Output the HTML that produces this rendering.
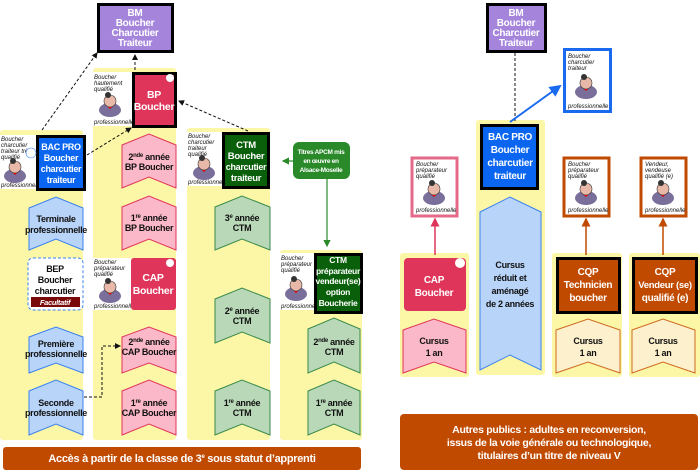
<!DOCTYPE html>
<html><head><meta charset="utf-8"><style>
html,body{margin:0;padding:0;background:#fff;width:700px;height:470px;overflow:hidden}
svg{display:block}
text{font-family:"Liberation Sans",sans-serif;text-anchor:middle}
.w{fill:#fff;font-weight:bold;letter-spacing:-0.3px}
.k{fill:#111;font-weight:bold;font-size:9px;letter-spacing:-0.3px}
.it{font-style:italic;font-size:6px;fill:#111;text-anchor:start}
</style></head><body>
<svg width="700" height="470" viewBox="0 0 700 470" xmlns="http://www.w3.org/2000/svg">
<defs>
<marker id="ah" markerWidth="6" markerHeight="6" refX="5" refY="3" orient="auto"><path d="M0,0 L6,3 L0,6z" fill="#111"/></marker>
<marker id="ag" markerWidth="6" markerHeight="6" refX="5" refY="3" orient="auto"><path d="M0,0 L6,3 L0,6z" fill="#2a8a2a"/></marker>
<marker id="ab" markerWidth="6" markerHeight="6" refX="5" refY="3" orient="auto"><path d="M0,0 L6,3 L0,6z" fill="#1a6af0"/></marker>
<marker id="ap" markerWidth="6" markerHeight="6" refX="5" refY="3" orient="auto"><path d="M0,0 L6,3 L0,6z" fill="#e0355a"/></marker>
<marker id="ao" markerWidth="6" markerHeight="6" refX="5" refY="3" orient="auto"><path d="M0,0 L6,3 L0,6z" fill="#c04a00"/></marker>
<g id="man"><ellipse cx="0" cy="6" rx="11" ry="7" fill="#7a6e9a"/><circle cx="0" cy="-3" r="6" fill="#e8b8a8" stroke="#333" stroke-width="0.6"/><circle cx="-2" cy="-9" r="3" fill="#333"/><path d="M-2,3 L2,3 L0,5z" fill="#d00"/></g>
</defs>
<g fill="#fbf7a6">
<rect x="0" y="130" width="83" height="310" rx="3"/>
<rect x="93" y="68" width="83" height="372" rx="3"/>
<rect x="187" y="128" width="83" height="312" rx="3"/>
<rect x="280" y="250" width="82" height="190" rx="3"/>
<rect x="400" y="253" width="69" height="124" rx="3"/>
<rect x="476" y="120" width="69" height="255" rx="3"/>
<rect x="552" y="253" width="70" height="124" rx="3"/>
<rect x="629" y="253" width="71" height="124" rx="3"/>
</g>
<g stroke="#111" stroke-width="1" stroke-dasharray="3,2" fill="none">
<line x1="42" y1="130" x2="97" y2="53" marker-end="url(#ah)"/>
<line x1="135" y1="70" x2="135" y2="55" marker-end="url(#ah)"/>
<line x1="87" y1="155" x2="131" y2="128" marker-end="url(#ah)"/>
<line x1="248" y1="131" x2="179" y2="101" marker-end="url(#ah)"/>
<polyline points="84,397 102,397 102,346 120,346" marker-end="url(#ah)"/>
<line x1="515" y1="53" x2="515" y2="122"/>
</g>
<line x1="296" y1="161" x2="283" y2="161" stroke="#2a8a2a" stroke-width="1.2" marker-end="url(#ag)"/>
<line x1="327" y1="179" x2="327" y2="246" stroke="#2a8a2a" stroke-width="1.2" marker-end="url(#ag)"/>
<line x1="510" y1="122" x2="560" y2="86" stroke="#1a6af0" stroke-width="2" marker-end="url(#ab)"/>
<line x1="435" y1="255" x2="435" y2="219" stroke="#e0355a" stroke-width="1.5" marker-end="url(#ap)"/>
<line x1="586" y1="255" x2="586" y2="219" stroke="#c04a00" stroke-width="1.5" marker-end="url(#ao)"/>
<line x1="663" y1="255" x2="663" y2="219" stroke="#c04a00" stroke-width="1.5" marker-end="url(#ao)"/>
<rect x="98.5" y="4.5" width="74" height="47" fill="#a585dc" stroke="#000" stroke-width="3"/>
<text class="w" font-size="10" x="135" y="16">BM</text><text class="w" font-size="10" x="135" y="26">Boucher</text><text class="w" font-size="10" x="135" y="36">Charcutier</text><text class="w" font-size="10" x="135" y="46">Traiteur</text>
<rect x="487.5" y="4.5" width="58" height="47" fill="#a585dc" stroke="#000" stroke-width="3"/>
<text class="w" font-size="10" x="516" y="16">BM</text><text class="w" font-size="10" x="516" y="26">Boucher</text><text class="w" font-size="10" x="516" y="36">Charcutier</text><text class="w" font-size="10" x="516" y="46">Traiteur</text>
<g>
<rect x="93" y="72" width="39" height="54" fill="#fff"/><text class="it" x="94" y="79">Boucher</text><text class="it" x="94" y="85">hautement</text><text class="it" x="94" y="91">qualifié</text><use href="#man" x="110" y="104"/><text class="it" x="94" y="124">professionnelle</text>
<rect x="0" y="135" width="36" height="54" fill="#fff"/><text class="it" x="1" y="141">Boucher</text><text class="it" x="1" y="147">charcutier</text><text class="it" x="1" y="153">traiteur très</text><text class="it" x="1" y="159">qualifié</text><use href="#man" x="15" y="170"/><text class="it" x="1" y="187">professionnelle</text>
<rect x="187" y="132" width="35" height="54" fill="#fff"/><text class="it" x="188" y="138">Boucher</text><text class="it" x="188" y="144">charcutier</text><text class="it" x="188" y="150">traiteur</text><text class="it" x="188" y="156">qualifié</text><use href="#man" x="204" y="167"/><text class="it" x="188" y="184">professionnelle</text>
<rect x="93" y="258" width="38" height="52" fill="#fff"/><text class="it" x="94" y="264">Boucher</text><text class="it" x="94" y="270">préparateur</text><text class="it" x="94" y="276">qualifié</text><use href="#man" x="110" y="290"/><text class="it" x="94" y="308">professionnelle</text>
<rect x="280" y="253" width="34" height="57" fill="#fff"/><text class="it" x="281" y="260">Boucher</text><text class="it" x="281" y="266">préparateur</text><text class="it" x="281" y="272">qualifié</text><use href="#man" x="296" y="288"/><text class="it" x="281" y="308">professionnelle</text>
</g>
<g>
<rect x="564.5" y="49.5" width="46" height="62" fill="#fff" stroke="#1a6af0" stroke-width="3"/><text class="it" x="568" y="58">Boucher</text><text class="it" x="568" y="64">charcutier</text><text class="it" x="568" y="70">traiteur</text><use href="#man" x="586" y="86"/><text class="it" x="568" y="108">professionnelle</text>
<rect x="412" y="158" width="45" height="58" fill="#fff" stroke="#e56a8a" stroke-width="3"/><text class="it" x="416" y="166">Boucher</text><text class="it" x="416" y="172">préparateur</text><text class="it" x="416" y="178">qualifié</text><use href="#man" x="434" y="192"/><text class="it" x="416" y="212">professionnelle</text>
<rect x="564" y="158" width="45" height="58" fill="#fff" stroke="#c04a00" stroke-width="3"/><text class="it" x="568" y="166">Boucher</text><text class="it" x="568" y="172">préparateur</text><text class="it" x="568" y="178">qualifié</text><use href="#man" x="586" y="192"/><text class="it" x="568" y="212">professionnelle</text>
<rect x="641" y="158" width="45" height="58" fill="#fff" stroke="#c04a00" stroke-width="3"/><text class="it" x="645" y="166">Vendeur,</text><text class="it" x="645" y="172">vendeuse</text><text class="it" x="645" y="178">qualifié (e)</text><use href="#man" x="663" y="192"/><text class="it" x="645" y="212">professionnelle</text>
</g>
<rect x="133.5" y="73.5" width="42" height="53" fill="#e0355a" stroke="#000" stroke-width="3"/>
<text class="w" font-size="10.5" x="154" y="98">BP</text><text class="w" font-size="10.5" x="154" y="110">Boucher</text>
<rect x="37.5" y="136.5" width="47" height="53" fill="#0a66f0" stroke="#000" stroke-width="3"/>
<text class="w" font-size="9" x="61" y="150">BAC PRO</text><text class="w" font-size="9" x="61" y="161">Boucher</text><text class="w" font-size="9" x="61" y="172">charcutier</text><text class="w" font-size="9" x="61" y="183">traiteur</text>
<rect x="223.5" y="133.5" width="45" height="54" fill="#0a600a" stroke="#000" stroke-width="3"/>
<text class="w" font-size="9.5" x="246" y="148">CTM</text><text class="w" font-size="9.5" x="246" y="159">Boucher</text><text class="w" font-size="9" x="246" y="170">charcutier</text><text class="w" font-size="9.5" x="246" y="181">traiteur</text>
<rect x="293" y="142" width="57" height="37" rx="6" fill="#2a8a2a"/>
<text class="w" font-size="6.5" x="321" y="154">Titres APCM mis</text><text class="w" font-size="6.5" x="321" y="163">en œuvre en</text><text class="w" font-size="6.5" x="321" y="172">Alsace-Moselle</text>
<rect x="315.5" y="254.5" width="46" height="58" fill="#0a600a" stroke="#000" stroke-width="3"/>
<text class="w" font-size="8.5" x="338" y="263">CTM</text><text class="w" font-size="8.5" x="338" y="274">préparateur</text><text class="w" font-size="8.5" x="338" y="284">vendeur(se)</text><text class="w" font-size="8.5" x="338" y="295">option</text><text class="w" font-size="8.5" x="338" y="306">Boucherie</text>
<rect x="131" y="258" width="45" height="52" rx="3" fill="#e0355a"/>
<text class="w" font-size="10.5" x="153" y="281">CAP</text><text class="w" font-size="10.5" x="153" y="294">Boucher</text>
<rect x="28" y="258" width="55" height="52" rx="5" fill="#fff" stroke="#3a80f0" stroke-dasharray="3,2"/>
<text class="k" font-size="9.5" x="55" y="272">BEP</text><text class="k" font-size="9.5" x="55" y="283">Boucher</text><text class="k" font-size="9.5" x="55" y="294">charcutier</text>
<rect x="31" y="297" width="49" height="10" fill="#7a0a0a"/><text class="w" font-size="7.5" font-style="italic" x="55" y="305">Facultatif</text>
<g><circle cx="31" cy="153" r="5" fill="#fff" stroke="#3a80f0" stroke-width="0.6"/><circle cx="170" cy="78" r="4" fill="#fff"/><circle cx="170" cy="263" r="4" fill="#fff"/></g>
<rect x="481.5" y="125.5" width="56" height="63" fill="#0a66f0" stroke="#000" stroke-width="3"/>
<text class="w" font-size="10" x="510" y="140">BAC PRO</text><text class="w" font-size="10" x="510" y="153">Boucher</text><text class="w" font-size="10" x="510" y="166">charcutier</text><text class="w" font-size="10" x="510" y="179">traiteur</text>
<rect x="404" y="258" width="62" height="53" rx="4" fill="#e0355a"/>
<text class="w" font-size="10" x="434" y="283">CAP</text><text class="w" font-size="10" x="434" y="296">Boucher</text>
<circle cx="460" cy="263" r="5" fill="#fff"/>
<rect x="557.5" y="258.5" width="62" height="54" fill="#c04a00" stroke="#000" stroke-width="3"/>
<text class="w" font-size="10" x="588" y="275">CQP</text><text class="w" font-size="10" x="588" y="288">Technicien</text><text class="w" font-size="10" x="588" y="301">boucher</text>
<rect x="633.5" y="258.5" width="63" height="54" fill="#c04a00" stroke="#000" stroke-width="3"/>
<text class="w" font-size="10" x="665" y="275">CQP</text><text class="w" font-size="9.5" x="665" y="288">Vendeur (se)</text><text class="w" font-size="10" x="665" y="301">qualifié (e)</text>
<g fill="#b8d4f8" stroke="#3a80f0" stroke-width="1">
<polygon points="29,208 56,197 83,208 83,250 56,239 29,250"/>
<polygon points="29,337 56,327 83,337 83,373 56,363 29,373"/>
<polygon points="29,391 56,380 83,391 83,435 56,424 29,435"/>
<polygon points="480,212 510,197 541,212 541,370 510,355 480,370"/>
</g>
<g fill="#fbb8c8" stroke="#e0355a" stroke-width="1">
<polygon points="122,145 149,134 176,145 176,188 149,177 122,188"/>
<polygon points="122,207 149,196 176,207 176,250 149,239 122,250"/>
<polygon points="122,337 149,327 176,337 176,373 149,363 122,373"/>
<polygon points="122,391 149,380 176,391 176,435 149,424 122,435"/>
<polygon points="403,330 434,319 466,330 466,373 434,362 403,373"/>
</g>
<g fill="#b8d8b8" stroke="#3a8a4a" stroke-width="1">
<polygon points="215,207 242,196 270,207 270,250 242,239 215,250"/>
<polygon points="215,299 242,288 270,299 270,343 242,332 215,343"/>
<polygon points="215,391 242,380 270,391 270,435 242,424 215,435"/>
<polygon points="308,329 334,318 360,329 360,373 334,362 308,373"/>
<polygon points="308,391 334,380 360,391 360,435 334,424 308,435"/>
</g>
<g fill="#fdf0cc" stroke="#d06a20" stroke-width="1">
<polygon points="556,330 588,319 620,330 620,373 588,362 556,373"/>
<polygon points="632,330 663,319 695,330 695,373 663,362 632,373"/>
</g>
<g>
<text class="k" x="56" y="222">Terminale</text><text class="k" x="56" y="233">professionnelle</text>
<text class="k" x="56" y="347">Première</text><text class="k" x="56" y="357">professionnelle</text>
<text class="k" x="56" y="406">Seconde</text><text class="k" x="56" y="416">professionnelle</text>
<text class="k" x="149" y="160">2<tspan font-size="6" dy="-3">nde</tspan><tspan dy="3"> année</tspan></text><text class="k" x="149" y="170">BP Boucher</text>
<text class="k" x="149" y="221">1<tspan font-size="6" dy="-3">re</tspan><tspan dy="3"> année</tspan></text><text class="k" x="149" y="231">BP Boucher</text>
<text class="k" x="149" y="345">2<tspan font-size="6" dy="-3">nde</tspan><tspan dy="3"> année</tspan></text><text class="k" x="149" y="355">CAP Boucher</text>
<text class="k" x="149" y="406">1<tspan font-size="6" dy="-3">re</tspan><tspan dy="3"> année</tspan></text><text class="k" x="149" y="416">CAP Boucher</text>
<text class="k" x="242" y="221">3<tspan font-size="6" dy="-3">e</tspan><tspan dy="3"> année</tspan></text><text class="k" x="242" y="231">CTM</text>
<text class="k" x="242" y="314">2<tspan font-size="6" dy="-3">e</tspan><tspan dy="3"> année</tspan></text><text class="k" x="242" y="324">CTM</text>
<text class="k" x="242" y="406">1<tspan font-size="6" dy="-3">re</tspan><tspan dy="3"> année</tspan></text><text class="k" x="242" y="416">CTM</text>
<text class="k" x="334" y="345">2<tspan font-size="6" dy="-3">nde</tspan><tspan dy="3"> année</tspan></text><text class="k" x="334" y="355">CTM</text>
<text class="k" x="334" y="406">1<tspan font-size="6" dy="-3">re</tspan><tspan dy="3"> année</tspan></text><text class="k" x="334" y="416">CTM</text>
<text class="k" font-size="10" x="510" y="268">Cursus</text><text class="k" font-size="10" x="510" y="281">réduit et</text><text class="k" font-size="10" x="510" y="294">aménagé</text><text class="k" font-size="10" x="510" y="307">de 2 années</text>
<text class="k" font-size="10" x="434" y="344">Cursus</text><text class="k" font-size="10" x="434" y="356">1 an</text>
<text class="k" font-size="10" x="588" y="344">Cursus</text><text class="k" font-size="10" x="588" y="356">1 an</text>
<text class="k" font-size="10" x="663" y="344">Cursus</text><text class="k" font-size="10" x="663" y="356">1 an</text>
</g>
<rect x="3" y="447" width="358" height="23" rx="3" fill="#c04a00"/>
<text class="w" font-size="11" x="182" y="462">Accès à partir de la classe de 3<tspan font-size="6" dy="-4">e</tspan><tspan dy="4"> sous statut d’apprenti</tspan></text>
<rect x="400" y="414" width="298" height="56" rx="4" fill="#c04a00"/>
<text class="w" font-size="10.5" x="549" y="433">Autres publics : adultes en reconversion,</text>
<text class="w" font-size="10.5" x="549" y="446">issus de la voie générale ou technologique,</text>
<text class="w" font-size="10.5" x="549" y="459">titulaires d’un titre de niveau V</text>
</svg>
</body></html>
